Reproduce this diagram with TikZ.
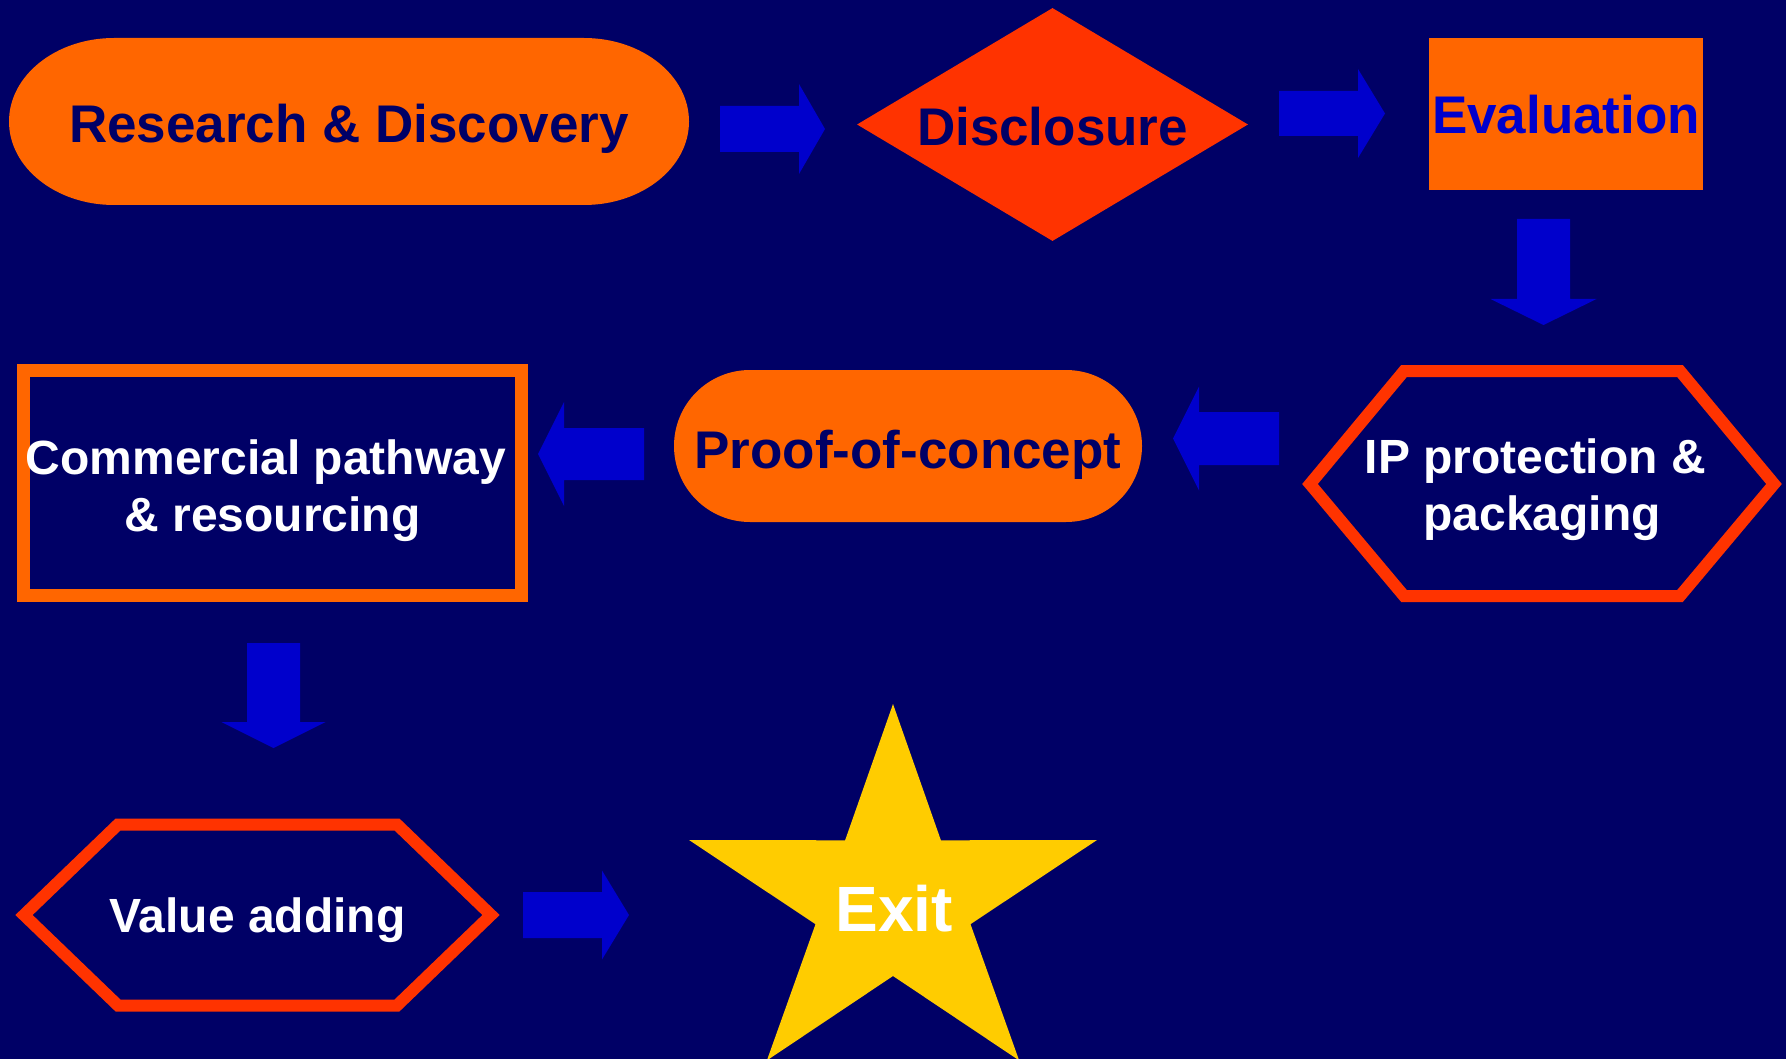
\documentclass[tikz,border=0pt]{standalone}
\usepackage{fontspec}
\setmainfont{Liberation Sans}
\usetikzlibrary{calc,shapes.geometric}
\definecolor{bgnavy}{HTML}{000066}
\definecolor{orng}{HTML}{FF6600}
\definecolor{redor}{HTML}{FF3300}
\definecolor{arrblue}{HTML}{0000CC}
\definecolor{staryel}{HTML}{FFCC00}
% #1 start, #2 tip, #3 shaft half width, #4 head half width, #5 head length
\newcommand\blockarrow[5]{%
  \coordinate (hb) at ($(#2)!#5!(#1)$);
  \fill[arrowfill] ($(#1)!#3!90:(#2)$) -- ($(hb)!#3!90:(#2)$) -- ($(hb)!#4!90:(#2)$)
    -- (#2) -- ($(hb)!#4!-90:(#2)$) -- ($(hb)!#3!-90:(#2)$) -- ($(#1)!#3!-90:(#2)$) -- cycle;
}
\begin{document}
\begin{tikzpicture}[x=1pt,y=-1pt,
  bigtxt/.style={font=\bfseries\fontsize{53}{60}\selectfont, inner sep=0pt, text depth=0pt},
  twotxt/.style={font=\bfseries\fontsize{48}{57}\selectfont, align=center, inner sep=0pt},
  hexline/.style={draw=redor, line width=12pt, line join=miter},
  arrowfill/.style={fill=arrblue},
  stadium/.style={fill=orng, text=bgnavy, bigtxt}
]
\useasboundingbox (0,0) rectangle (1786,1059);
\fill[bgnavy] (0,0) rectangle (1786,1059);
\clip (0,0) rectangle (1786,1059);

% Research & Discovery (terminator with elliptic ends)
\coordinate (rdc) at (349,121.5);
\fill[orng] ($(rdc)+(-235,-83.5)$) -- ++(470,0)
  arc[start angle=-90, end angle=90, x radius=105, y radius=83.5] -- ++(-470,0)
  arc[start angle=90, end angle=270, x radius=105, y radius=83.5] -- cycle;
\node[bigtxt, text=bgnavy, text height=43pt] (rd) at (rdc) {Research \& Discovery};

\node[shape=diamond, fill=redor, text=bgnavy, bigtxt, aspect=1.678, minimum width=391pt, minimum height=233pt, text height=43pt] (disc) at (1052.5,124.5) {Disclosure};
\node[fill=orng, text=arrblue, bigtxt, minimum width=274pt, minimum height=152pt, text height=40pt] (eval) at (1566,114) {Evaluation};

\node[twotxt, text=white] (ip) at (1542,484) {\rule{0pt}{52pt}IP protection \&\hspace*{0.278em}\\packaging\rule[-17pt]{0pt}{17pt}};
\draw[hexline] ($(ip)+(-232,0)$) -- ++(94,-113) -- ++(276,0) -- ++(94,113) -- ++(-94,112) -- ++(-276,0) -- cycle;

\node[stadium, rounded corners=76pt, minimum width=468pt, minimum height=152pt, text height=44pt] (poc) at (908,446) {Proof-of-concept};

\node[draw=orng, line width=13pt, minimum width=498pt, minimum height=225pt, twotxt, text=white] (comm) at (272.5,483) {\rule{0pt}{52pt}Commercial pathway\hspace*{0.278em}\\\& resourcing\rule[-13pt]{0pt}{13pt}};

\node[font=\bfseries\fontsize{48}{57}\selectfont, inner sep=0pt, text height=34pt, text depth=0pt, text=white] (val) at (257.5,915) {Value adding};
\draw[hexline] ($(val)+(-233.5,0)$) -- ++(94,-90.5) -- ++(279,0) -- ++(94,90.5) -- ++(-94,90.5) -- ++(-279,0) -- cycle;

\fill[staryel] (893,704) -- (940.9,840.3) -- (1097,840) -- (970.5,924.2) -- (1019.1,1060.4)
  -- (893,976) -- (766.9,1060.4) -- (815.5,924.2) -- (689,840) -- (845.1,840.3) -- cycle;
\node[font=\bfseries\fontsize{64}{70}\selectfont, inner sep=0pt, text=white, anchor=base] (ex) at (894,931) {Exit};

% connectors (block arrows)
\coordinate (a1s) at (720,129);    \coordinate (a1t) at (825,129);
\coordinate (a2s) at (1279,113.5); \coordinate (a2t) at (1385,113.5);
\coordinate (a3s) at (1543.5,219); \coordinate (a3t) at (1543.5,325);
\coordinate (a4s) at (1279,438.5); \coordinate (a4t) at (1173,438.5);
\coordinate (a5s) at (644,454);    \coordinate (a5t) at (538,454);
\coordinate (a6s) at (273.5,643);  \coordinate (a6t) at (273.5,748);
\coordinate (a7s) at (523,915);    \coordinate (a7t) at (629,915);
\blockarrow{a1s}{a1t}{23pt}{45pt}{26pt}
\blockarrow{a2s}{a2t}{22.5pt}{44.5pt}{27pt}
\blockarrow{a3s}{a3t}{26.5pt}{53pt}{26pt}
\blockarrow{a4s}{a4t}{26.5pt}{52pt}{26pt}
\blockarrow{a5s}{a5t}{26pt}{52pt}{26pt}
\blockarrow{a6s}{a6t}{26.5pt}{52pt}{26pt}
\blockarrow{a7s}{a7t}{23pt}{44.5pt}{27pt}
\end{tikzpicture}
\end{document}
